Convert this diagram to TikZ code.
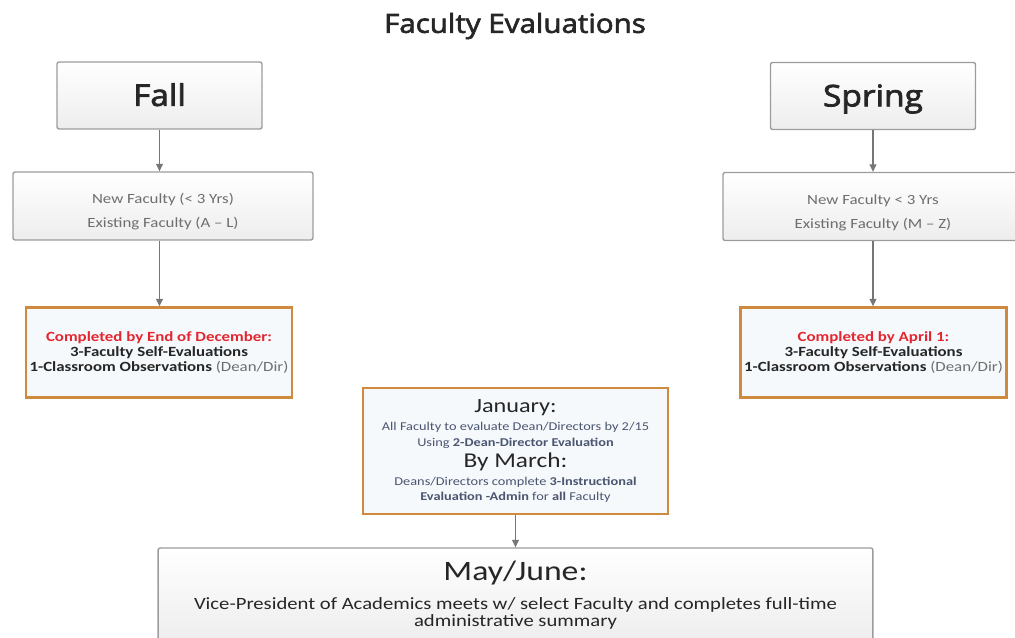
\documentclass[tikz,border=0pt]{standalone}
\usepackage{fontspec}
\setmainfont{Carlito}[FakeStretch=1.2]
\newfontfamily\headfont{Open Sans}[FakeStretch=1.12,FakeBold=2.5]
\definecolor{boxline}{HTML}{9C9C9C}
\definecolor{arrowgray}{HTML}{767676}
\definecolor{duebox}{HTML}{CF8A40}
\definecolor{duefill}{HTML}{F6F9FC}
\definecolor{duered}{HTML}{E3262F}
\definecolor{smalltxt}{HTML}{6E6E6E}
\definecolor{midtxt}{HTML}{4A5570}
\definecolor{darktxt}{HTML}{262626}
\usetikzlibrary{arrows.meta,positioning,calc}
\tikzset{
  term/.style    = {draw=boxline,line width=0.8pt,rounded corners=1.2pt,
                    top color=white,bottom color=black!7,align=center,
                    inner sep=2pt},
  season/.style  = {term,font=\headfont\fontsize{17}{19}\selectfont,
                    text=darktxt,minimum width=4.1cm,minimum height=1.34cm,
                    text height=15pt,text depth=3.2pt},
  group/.style   = {term,font=\fontsize{8}{13.5}\selectfont,text=smalltxt,
                    minimum width=6cm,minimum height=1.36cm,text height=26pt},
  due/.style     = {draw=duebox,line width=1.4pt,fill=duefill,align=center,
                    text=darktxt,inner sep=2pt},
  dueinfo/.style = {due,font=\bfseries\fontsize{8}{8.6}\selectfont,
                    minimum width=5.12cm,minimum height=1.8cm},
  link/.style    = {-{Triangle[length=1.5mm,width=1.4mm]},draw=arrowgray,
                    line width=0.6pt},
}

\begin{document}
\begin{tikzpicture}[x=0.02cm,y=-0.02cm]
  \useasboundingbox (0,0) rectangle (1015,637);
  \node[font=\headfont\fontsize{15}{17}\selectfont,text=darktxt] (title)
       at (515,26) {Faculty Evaluations};

  % Fall column
  \node[season] (fall) at (159.5,95.5) {Fall};
  \node[group] (newfall) at (163,206) {New Faculty (< 3 Yrs)\\Existing Faculty (A -- L)};
  \node[dueinfo] (endfall) at (159,352.5)
       {{\color{duered}Completed by End of December:}\\
        3-Faculty Self-Evaluations\\
        1-Classroom Observations {\mdseries\color{smalltxt}(Dean/Dir)}};

  % Spring column
  \node[season] (spring) at (873,96) {Spring};
  \node[group] (newspring) at (873,206.5) {New Faculty < 3 Yrs\\Existing Faculty (M -- Z)};
  \node[dueinfo] (endspring) at (873.5,352.5)
       {{\color{duered}Completed by April 1:}\\
        3-Faculty Self-Evaluations\\
        1-Classroom Observations {\mdseries\color{smalltxt}(Dean/Dir)}};

  % Dean/Director evaluations and summary
  \node[due,minimum width=6.1cm,minimum height=2.52cm,text=midtxt,
        font=\fontsize{6.8}{9}\selectfont] (winter) at (515.5,451)
       {{\fontsize{11.5}{13}\selectfont\color{darktxt}January:}\\[1.5pt]
        All Faculty to evaluate Dean/Directors by 2/15\\
        Using \textbf{2-Dean-Director Evaluation}\\[1.5pt]
        {\fontsize{12}{14}\selectfont\color{darktxt}By March:}\\[1pt]
        Deans/Directors complete \textbf{3-Instructional}\\
        \textbf{Evaluation -Admin} for \textbf{all} Faculty};
  \node[term,minimum width=14.3cm,minimum height=1.88cm,text=darktxt,
        font=\fontsize{9.8}{9.5}\selectfont] (summary) at (515.5,595)
       {{\fontsize{16}{18}\selectfont May/June:}\\[7pt]
        Vice-President of Academics meets w/ select Faculty and completes full-time\\
        administrative summary};

  % Connectors
  \draw[link] (fall.south) -- (fall.south |- newfall.north);
  \draw[link] (fall.south |- newfall.south) -- (fall.south |- endfall.north);
  \draw[link] (spring.south) -- (spring.south |- newspring.north);
  \draw[link] (spring.south |- newspring.south) -- (spring.south |- endspring.north);
  \draw[link] (winter.south) -- (winter.south |- summary.north);
\end{tikzpicture}
\end{document}
